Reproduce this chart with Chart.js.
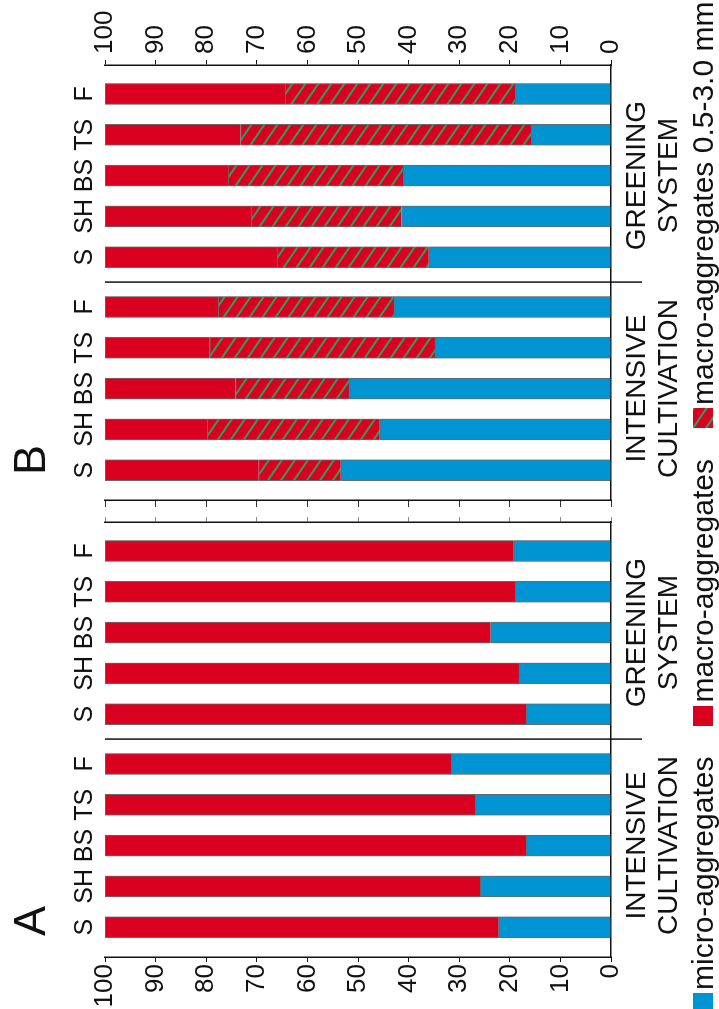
<!DOCTYPE html>
<html>
<head>
<meta charset="utf-8">
<title>Aggregate composition</title>
<script src="https://cdn.jsdelivr.net/npm/chart.js@4.4.1/dist/chart.umd.min.js"></script>
<style>
  html, body { margin: 0; padding: 0; background: #fff; width: 719px; height: 1009px; overflow: hidden; }
  /* The figure is laid out landscape and turned a quarter turn counter-clockwise onto the page */
  #figure {
    position: absolute; left: 0; top: 0; width: 1009px; height: 719px;
    transform-origin: 0 0; transform: translateY(1009px) rotate(-90deg);
    font-family: 'Liberation Sans', Arial, sans-serif; color: #111; background: #fff;
  }
  #figure canvas.panel { position: absolute; top: 0; }
  .panel-letter { position: absolute; top: 7px; font-size: 45px; line-height: 45px; }
  #legend { position: absolute; left: -4px; top: 688px; display: flex; gap: 31px; font-size: 30px; line-height: 30px; white-space: nowrap; }
  .key { display: flex; align-items: flex-start; }
  .swatch { width: 20px; height: 20px; margin-top: 5px; margin-right: 3px; display: block; }
</style>
</head>
<body>
<div id="figure">
  <canvas id="panelA" class="panel" width="498" height="690" style="left:0px"></canvas>
  <canvas id="panelB" class="panel" width="511" height="690" style="left:498px"></canvas>
  <div class="panel-letter" id="letterA" style="left:73px"></div>
  <div class="panel-letter" id="letterB" style="left:534px"></div>
  <div id="legend"></div>
</div>
<script>
// ---- data -------------------------------------------------------------
const categories = ['S', 'SH', 'BS', 'TS', 'F', 'S', 'SH', 'BS', 'TS', 'F'];
const groupNames = [['INTENSIVE', 'CULTIVATION'], ['GREENING', 'SYSTEM']];
const panelNames = ['A', 'B'];
const seriesNames = ['micro-aggregates', 'macro-aggregates', 'macro-aggregates 0.5-3.0 mm'];

// Panel A: share of each aggregate class, %
const microA = [22.2, 25.8, 16.8, 26.8, 31.6, 16.8, 18.2, 23.8, 18.9, 19.2];
const macroA = [77.8, 74.2, 83.2, 73.2, 68.4, 83.2, 81.8, 76.2, 81.1, 80.8];

// Panel B: macro-aggregates split into the 0.5-3.0 mm fraction and the rest, %
const microB     = [53.4, 45.7, 51.8, 34.8, 42.9, 36.0, 41.4, 41.1, 15.8, 18.9];
const macroFineB = [16.2, 34.1, 22.4, 44.5, 34.7, 30.0, 29.7, 34.6, 57.4, 45.5];
const macroB     = [30.4, 20.2, 25.8, 20.7, 22.4, 34.0, 28.9, 24.3, 26.8, 35.6];

// ---- layout & style ---------------------------------------------------
const GROUP_SIZE = 5;
const GROUP_GAP = 0.22;          // extra spacing between the two management groups
const X_MIN = -0.73, X_MAX = 9.93;
const PLOT_TOP = 105, PLOT_BOTTOM = 611, CANVAS_H = 690;
const BLUE = '#0094d2', RED = '#da0020', GREEN = '#2f9d5e', INK = '#111111';

Chart.defaults.font.family = "'Liberation Sans', Arial, sans-serif";
Chart.defaults.color = INK;

const positions = categories.map((_, i) => i + (i >= GROUP_SIZE ? GROUP_GAP : 0));
const groupCentres = [0, 1].map(g => {
  const p = positions.slice(g * GROUP_SIZE, (g + 1) * GROUP_SIZE);
  return p.reduce((a, b) => a + b, 0) / p.length;
});
const points = values => values.map((v, i) => ({ x: positions[i], y: v }));

function hatchTile() {
  const w = 19, h = 13;
  const c = document.createElement('canvas');
  c.width = w; c.height = h;
  const g = c.getContext('2d');
  g.fillStyle = RED; g.fillRect(0, 0, w, h);
  g.strokeStyle = GREEN; g.lineWidth = 2;
  for (const dx of [-w, 0, w]) {
    g.beginPath(); g.moveTo(dx - w, -h); g.lineTo(dx + 2 * w, 2 * h); g.stroke();
  }
  return c;
}
const tile = hatchTile();
const hatch = document.createElement('canvas').getContext('2d').createPattern(tile, 'repeat');

// vertical divider between the two management groups
const groupDivider = {
  id: 'groupDivider',
  afterDraw(chart) {
    const xs = chart.scales.x, area = chart.chartArea, ctx = chart.ctx;
    const at = (xs.getPixelForValue(positions[GROUP_SIZE - 1]) + xs.getPixelForValue(positions[GROUP_SIZE])) / 2;
    ctx.save();
    ctx.strokeStyle = INK; ctx.lineWidth = 1.5;
    ctx.beginPath(); ctx.moveTo(at, area.top); ctx.lineTo(at, area.bottom + 31); ctx.stroke();
    ctx.restore();
  }
};

function panelChart(id, datasets, labelSide, labelWidth, edgeWidth, labelPad, edgeTick, edgeColor) {
  const edgeSide = labelSide === 'left' ? 'right' : 'left';
  return new Chart(document.getElementById(id), {
    type: 'bar',
    data: { datasets },
    options: {
      responsive: false, animation: false, devicePixelRatio: 1,
      layout: { padding: 0 },
      plugins: { legend: { display: false }, tooltip: { enabled: false } },
      datasets: { bar: { barThickness: 21, borderWidth: 1, borderColor: '#6a6a6a' } },
      scales: {
        x: {
          type: 'linear', position: 'top', min: X_MIN, max: X_MAX, offset: false, stacked: true,
          grid: { display: false, drawTicks: false, offset: false }, border: { display: false },
          afterBuildTicks: s => { s.ticks = positions.map(v => ({ value: v })); },
          ticks: { autoSkip: false, maxRotation: 0, minRotation: 0, padding: 5,
                   font: { size: 25 }, callback: (v, i) => categories[i] },
          afterFit: s => { s.height = PLOT_TOP; }
        },
        groups: {
          type: 'linear', axis: 'x', position: 'bottom', min: X_MIN, max: X_MAX, offset: false,
          grid: { display: false, drawTicks: false, offset: false },
          border: { display: true, color: INK, width: 1.5 },
          afterBuildTicks: s => { s.ticks = groupCentres.map(v => ({ value: v })); },
          ticks: { autoSkip: false, maxRotation: 0, minRotation: 0, padding: 10,
                   font: { size: 28, lineHeight: 1.15 }, callback: (v, i) => groupNames[i] },
          afterFit: s => { s.height = CANVAS_H - PLOT_BOTTOM; }
        },
        y: {
          type: 'linear', position: labelSide, stacked: true, min: 0, max: 100,
          ticks: { stepSize: 10, padding: labelPad, font: { size: 26 } },
          grid: { drawOnChartArea: false, tickLength: 5, color: INK },
          border: { color: INK, width: 1.5 },
          afterFit: s => { s.width = labelWidth; }
        },
        yEdge: {
          type: 'linear', position: edgeSide, min: 0, max: 100,
          ticks: { display: false, stepSize: 10 },
          grid: { drawOnChartArea: false, tickLength: edgeTick, color: edgeColor },
          border: { color: INK, width: 1.5 },
          afterFit: s => { s.width = edgeWidth; }
        }
      }
    },
    plugins: [groupDivider]
  });
}

panelChart('panelA', [
  { label: seriesNames[0], data: points(microA), backgroundColor: BLUE },
  { label: seriesNames[1], data: points(macroA), backgroundColor: RED }
], 'left', 52, 11, 2, 5, '#8a8a8a');

panelChart('panelB', [
  { label: seriesNames[0], data: points(microB), backgroundColor: BLUE },
  { label: seriesNames[2], data: points(macroFineB), backgroundColor: hatch },
  { label: seriesNames[1], data: points(macroB), backgroundColor: RED }
], 'right', 65, 11, 6, 7, '#333333');

document.getElementById('letterA').textContent = panelNames[0];
document.getElementById('letterB').textContent = panelNames[1];

// legend
const legend = document.getElementById('legend');
const swatchFills = [BLUE, RED, null];
seriesNames.forEach((name, i) => {
  const key = document.createElement('div');
  key.className = 'key';
  const sw = document.createElement('canvas');
  sw.className = 'swatch'; sw.width = 20; sw.height = 20;
  const g = sw.getContext('2d');
  g.fillStyle = swatchFills[i] || g.createPattern(tile, 'repeat');
  g.fillRect(0, 0, 20, 20);
  const txt = document.createElement('span');
  txt.textContent = name;
  key.appendChild(sw); key.appendChild(txt);
  legend.appendChild(key);
});
</script>
</body>
</html>
